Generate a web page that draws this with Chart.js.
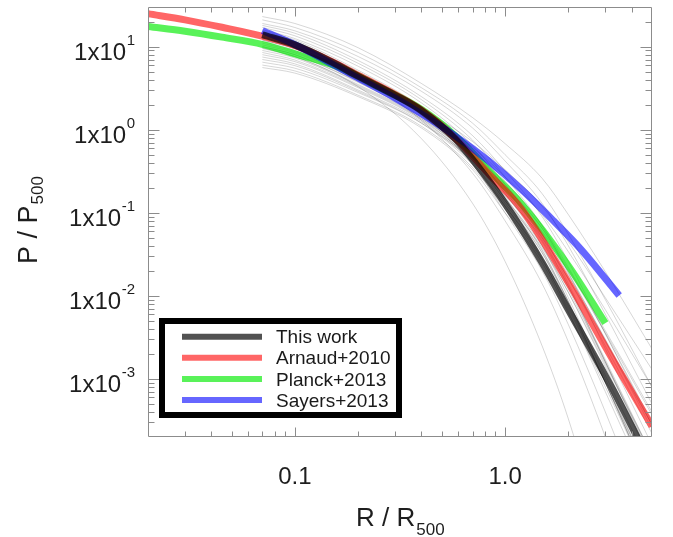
<!DOCTYPE html>
<html><head><meta charset="utf-8">
<script src="https://cdn.jsdelivr.net/npm/chart.js@4.4.0/dist/chart.umd.min.js"></script>
<style>html,body{margin:0;padding:0;background:#fff;overflow:hidden}#wrap{position:absolute;left:0;top:0;width:673px;height:537px}</style>
</head><body><div id="wrap"><canvas id="c" width="673" height="537"></canvas></div>
<script>
// ---------- data ----------
const seriesNames = ['This work', 'Arnaud+2010', 'Planck+2013', 'Sayers+2013'];

const thisWorkR = [0.07, 0.1, 0.15, 0.2, 0.3, 0.4, 0.58, 0.84, 1.08, 1.5, 2.0, 3.3, 4.5];
const thisWorkP = [13.9, 10.5, 6.5, 4.4, 2.6, 1.7, 0.77, 0.24, 0.096, 0.025, 0.0068, 0.0007, 0.00015];

const arnaudR = [0.02, 0.03, 0.045, 0.0705, 0.1, 0.15, 0.2, 0.3, 0.4, 0.58, 0.84, 1.2, 2.0, 3.3, 5.0];
const arnaudP = [24.9, 21.0, 17.1, 13.3, 10.3, 6.6, 4.5, 2.65, 1.72, 0.79, 0.29, 0.11, 0.0145, 0.0016, 0.00027];

const planckR = [0.02, 0.03, 0.045, 0.0705, 0.1, 0.164, 0.25, 0.4, 0.58, 0.84, 1.2, 2.0, 3.0];
const planckP = [17.5, 15.3, 13.0, 10.6, 8.2, 5.6, 3.3, 1.75, 0.84, 0.32, 0.127, 0.0231, 0.0047];

const sayersR = [0.07, 0.1, 0.1935, 0.3, 0.4, 0.58, 0.836, 1.2, 1.7, 2.29, 3.49];
const sayersP = [15.6, 10.6, 4.37, 2.4, 1.55, 0.84, 0.42, 0.19, 0.08, 0.0366, 0.0101];

// individual cluster profiles (thin grey lines), sampled at greyR
const greyR = [0.07, 0.1, 0.2, 0.4, 0.7, 1.0, 1.5, 2.0, 3.0, 5.0];
const greyProfiles = [
  [23, 19, 9.7, 3.6, 1.4, 0.68, 0.26, 0.095, 0.0195, 0.0023],
  [21, 17, 8.5, 3.2, 1.2, 0.5, 0.17, 0.055, 0.009, 0.0008],
  [19, 15.5, 7.6, 2.9, 1.05, 0.42, 0.13, 0.04, 0.006, 0.0005],
  [18, 14.5, 6.8, 2.5, 0.85, 0.32, 0.09, 0.026, 0.0035, 0.00028],
  [17, 13.5, 6.3, 2.3, 0.75, 0.27, 0.07, 0.019, 0.0023, 0.00016],
  [16, 12.5, 5.8, 2.1, 0.65, 0.22, 0.055, 0.014, 0.0016, 0.0001],
  [15.5, 12, 5.2, 1.9, 0.6, 0.2, 0.05, 0.013, 0.0016, 0.00011],
  [15, 11.5, 5.0, 1.8, 0.55, 0.17, 0.04, 0.0095, 0.001, 0.00006],
  [14.5, 11, 4.7, 1.7, 0.5, 0.155, 0.036, 0.0085, 0.0009, 0.00005],
  [14, 10.8, 4.6, 1.75, 0.6, 0.22, 0.065, 0.019, 0.0029, 0.00025],
  [13.5, 10.5, 4.6, 1.8, 0.62, 0.24, 0.07, 0.022, 0.0035, 0.0003],
  [13, 10, 4.4, 1.65, 0.52, 0.18, 0.047, 0.013, 0.0017, 0.00012],
  [12.5, 9.8, 4.3, 1.6, 0.48, 0.15, 0.035, 0.0085, 0.0009, 0.00005],
  [12, 9.4, 4.2, 1.6, 0.55, 0.2, 0.058, 0.018, 0.003, 0.00028],
  [11.5, 9, 4.0, 1.55, 0.5, 0.17, 0.045, 0.012, 0.0016, 0.00012],
  [11, 8.7, 3.9, 1.5, 0.45, 0.14, 0.033, 0.008, 0.0009, 0.00005],
  [10.5, 8.4, 3.9, 1.55, 0.55, 0.21, 0.065, 0.021, 0.0038, 0.0004],
  [10, 8.0, 3.7, 1.45, 0.5, 0.18, 0.052, 0.016, 0.0025, 0.00022],
  [9.5, 7.6, 3.5, 1.4, 0.45, 0.15, 0.04, 0.011, 0.0014, 0.0001],
  [9, 7.3, 3.4, 1.35, 0.4, 0.12, 0.028, 0.0065, 0.0007, 0.00004],
  [8.5, 6.9, 3.3, 1.35, 0.48, 0.19, 0.06, 0.02, 0.0036, 0.00037],
  [8, 6.6, 3.2, 1.3, 0.42, 0.14, 0.038, 0.011, 0.0015, 0.00012],
  [7.5, 6.2, 3.0, 1.25, 0.4, 0.13, 0.033, 0.0085, 0.0011, 0.00008],
  [7, 5.9, 2.9, 1.2, 0.38, 0.12, 0.03, 0.0075, 0.0009, 0.00006],
  [6.5, 5.5, 2.8, 1.2, 0.42, 0.16, 0.05, 0.016, 0.0028, 0.00028],
  [6, 5.1, 2.6, 1.1, 0.35, 0.11, 0.027, 0.007, 0.0009, 0.00006],
  [5.6, 4.8, 2.5, 1.05, 0.33, 0.1, 0.025, 0.0062, 0.0008, 0.00005],
  [9.7, 7.6, 3.3, 0.78, 0.13, 0.026, 0.0025, 0.00033, 0.00001, 0.0000001],
  [13, 10, 4.2, 1.3, 0.3, 0.08, 0.014, 0.0028, 0.0002, 0.000005],
  [15, 11.5, 4.8, 1.5, 0.38, 0.1, 0.02, 0.0045, 0.0004, 0.000015],
  [12, 9.5, 4.3, 1.8, 0.72, 0.33, 0.12, 0.045, 0.0095, 0.0013],
  [10, 8, 3.8, 1.6, 0.62, 0.27, 0.095, 0.034, 0.0068, 0.0008]
];

// axis ranges and ticks
const xRange = [0.02, 5];
const yRange = [0.0002, 30];
const xMajorTicks = [0.1, 1];
const xTickLabels = ['0.1', '1.0'];
const xMinorTicks = [0.03, 0.04, 0.05, 0.06, 0.07, 0.08, 0.09, 0.2, 0.3, 0.4, 0.5, 0.6, 0.7, 0.8, 0.9, 2, 3, 4];
const yMajorTicks = [10, 1, 0.1, 0.01, 0.001];
const yTickExponents = ['1', '0', '-1', '-2', '-3'];
const yMinorTicks = [0.0003, 0.0004, 0.0005, 0.0006, 0.0007, 0.0008, 0.0009,
  0.002, 0.003, 0.004, 0.005, 0.006, 0.007, 0.008, 0.009,
  0.02, 0.03, 0.04, 0.05, 0.06, 0.07, 0.08, 0.09,
  0.2, 0.3, 0.4, 0.5, 0.6, 0.7, 0.8, 0.9,
  2, 3, 4, 5, 6, 7, 8, 9, 20];

// ---------- styling ----------
const colors = ['rgba(0,0,0,0.68)', 'rgba(255,0,0,0.6)', 'rgba(0,235,0,0.65)', 'rgba(0,0,255,0.6)'];
const FONT = '"Liberation Sans", Arial, Helvetica, sans-serif';

const pts = (R, P) => R.map((r, i) => ({x: r, y: P[i]}));
const mainSets = [[thisWorkR, thisWorkP], [arnaudR, arnaudP], [planckR, planckP], [sayersR, sayersP]];
const drawOrder = [0, 2, 3, 1];

const datasets = [];
mainSets.forEach((s, i) => {
  datasets.push({
    label: seriesNames[i], data: pts(s[0], s[1]),
    borderColor: colors[i], borderWidth: 7, borderCapStyle: 'butt', borderJoinStyle: 'round',
    pointRadius: 0, cubicInterpolationMode: 'monotone', clip: 0, order: drawOrder[i]
  });
});
greyProfiles.forEach((p, k) => {
  datasets.push({
    label: 'cluster ' + (k + 1), data: pts(greyR, p),
    borderColor: 'rgba(0,0,0,0.16)', borderWidth: 1,
    pointRadius: 0, cubicInterpolationMode: 'monotone', clip: 0, order: 10
  });
});

// frame, inward ticks, exponent labels, titles and legend
const decor = {
  id: 'decor',
  afterDraw(chart) {
    const {ctx, chartArea: a, scales: {x, y}} = chart;
    const L = Math.round(a.left) + 0.5, R = Math.round(a.right) - 0.5;
    const T = Math.round(a.top) + 0.5, B = Math.round(a.bottom) - 0.5;
    ctx.save();
    ctx.strokeStyle = '#8c8c8c';
    ctx.lineWidth = 1;
    ctx.beginPath();
    ctx.rect(L, T, R - L, B - T);
    const xt = (v, len) => {
      const p = Math.round(x.getPixelForValue(v)) + 0.5;
      ctx.moveTo(p, B); ctx.lineTo(p, B - len);
      ctx.moveTo(p, T); ctx.lineTo(p, T + len);
    };
    const yt = (v, len) => {
      const p = Math.round(y.getPixelForValue(v)) + 0.5;
      ctx.moveTo(L, p); ctx.lineTo(L + len, p);
      ctx.moveTo(R, p); ctx.lineTo(R - len, p);
    };
    xMajorTicks.forEach(v => xt(v, 9));
    xMinorTicks.forEach(v => xt(v, 5));
    yMajorTicks.forEach(v => yt(v, 11));
    yMinorTicks.forEach(v => yt(v, 6));
    ctx.stroke();

    // y tick labels 1x10^n
    ctx.fillStyle = '#1e1e1e';
    ctx.textBaseline = 'alphabetic';
    ctx.textAlign = 'left';
    yMajorTicks.forEach((v, i) => {
      const p = y.getPixelForValue(v);
      ctx.font = '15px ' + FONT;
      const ew = ctx.measureText(yTickExponents[i]).width;
      const ex = 135 - ew;
      ctx.fillText(yTickExponents[i], ex, p - 1.5);
      ctx.font = '24px ' + FONT;
      const bw = ctx.measureText('1x10').width;
      ctx.fillText('1x10', ex - bw - 0.5, p + 13.3);
    });

    // x title
    ctx.font = '26px ' + FONT;
    ctx.fillText('R / R', 356, 526);
    const rw = ctx.measureText('R / R').width;
    ctx.font = '17px ' + FONT;
    ctx.fillText('500', 356 + rw + 1, 535);

    // y title
    ctx.save();
    ctx.translate(36.5, 264);
    ctx.rotate(-Math.PI / 2);
    ctx.font = '27px ' + FONT;
    ctx.fillText('P / P', 0, 0);
    const pw = ctx.measureText('P / P').width;
    ctx.font = '17px ' + FONT;
    ctx.fillText('500', pw + 1, 6.5);
    ctx.restore();

    // legend
    ctx.fillStyle = '#fff';
    ctx.fillRect(159, 318, 243, 100);
    ctx.strokeStyle = '#000';
    ctx.lineWidth = 6;
    ctx.strokeRect(162, 321, 237, 94);
    const rows = [336.7, 357.7, 379, 400];
    seriesNames.forEach((n, i) => {
      ctx.strokeStyle = colors[i];
      ctx.lineWidth = 6;
      ctx.lineCap = 'butt';
      ctx.beginPath();
      ctx.moveTo(182, rows[i]); ctx.lineTo(262, rows[i]);
      ctx.stroke();
      ctx.fillStyle = '#1a1a1a';
      ctx.font = '19px ' + FONT;
      ctx.fillText(n, 276, rows[i] + 6.5);
    });
    ctx.restore();
  }
};

new Chart(document.getElementById('c'), {
  type: 'line',
  data: {datasets},
  options: {
    responsive: false, animation: false, devicePixelRatio: 1,
    layout: {padding: {left: 0, top: 7, right: 21, bottom: 0}},
    plugins: {legend: {display: false}, tooltip: {enabled: false}, title: {display: false}},
    scales: {
      x: {
        type: 'logarithmic', position: 'bottom', min: xRange[0], max: xRange[1],
        grid: {display: false, drawTicks: false}, border: {display: false},
        afterBuildTicks: s => { s.ticks = xMajorTicks.map(v => ({value: v})); },
        ticks: {
          autoSkip: false, maxRotation: 0, padding: 26, color: '#1e1e1e',
          font: {family: FONT, size: 24},
          callback: (v) => { const i = xMajorTicks.indexOf(v); return i >= 0 ? xTickLabels[i] : ''; }
        },
        afterFit: s => { s.height = 100; }
      },
      y: {
        type: 'logarithmic', position: 'left', min: yRange[0], max: yRange[1],
        grid: {display: false, drawTicks: false}, border: {display: false},
        afterBuildTicks: s => { s.ticks = yMajorTicks.map(v => ({value: v})); },
        ticks: {display: false},
        afterFit: s => { s.width = 148; }
      }
    }
  },
  plugins: [decor]
});
</script>
</body></html>
